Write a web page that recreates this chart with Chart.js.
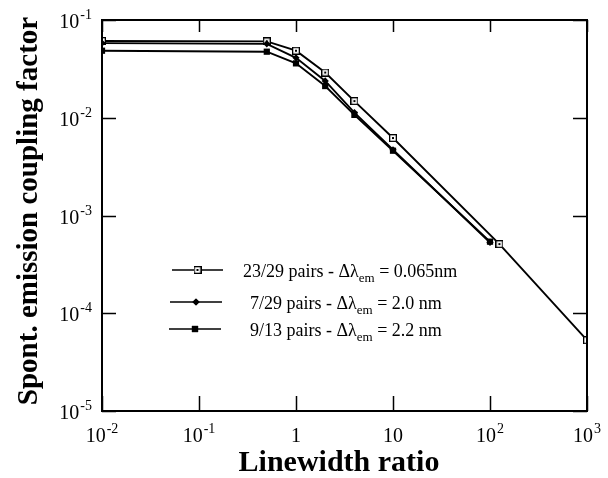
<!DOCTYPE html>
<html>
<head>
<meta charset="utf-8">
<script src="https://cdn.jsdelivr.net/npm/chart.js@4"></script>
<style>
  body { margin: 0; background: #fff; }
  #wrap { width: 608px; height: 478px; }
</style>
</head>
<body>
<div id="wrap"><canvas id="chart" width="608" height="478"></canvas></div>
<script>
// --- DATA ---
const xOpen = [0.01, 0.5, 1, 2, 4, 10, 125, 1000];
const yOpen = [0.061, 0.0605, 0.0485, 0.029, 0.0148, 0.0062, 0.00051, 0.000053];

const xDiamond = [0.01, 0.5, 1, 2, 4, 10, 100];
const yDiamond = [0.058, 0.057, 0.041, 0.0238, 0.0113, 0.0047, 0.00053];

const xFilled = [0.01, 0.5, 1, 2, 4, 10, 100];
const yFilled = [0.0485, 0.0474, 0.036, 0.0211, 0.0107, 0.0046, 0.00054];

const seriesNames = ['23/29 pairs', '7/29 pairs', '9/13 pairs'];
const seriesWidths = ['0.065nm', '2.0 nm', '2.2 nm'];

const xTicks = [0.01, 0.1, 1, 10, 100, 1000];
const xTickLabels = [['10', '-2'], ['10', '-1'], ['1', ''], ['10', ''], ['10', '2'], ['10', '3']];
const yTicks = [0.1, 0.01, 0.001, 0.0001, 0.00001];
const yTickLabels = [['10', '-1'], ['10', '-2'], ['10', '-3'], ['10', '-4'], ['10', '-5']];

const xTitle = 'Linewidth ratio';
const yTitle = 'Spont. emission coupling factor';

const SERIF = "'Liberation Serif', 'Times New Roman', serif";

// open square marker with a dot in the middle
const openSquare = document.createElement('canvas');
openSquare.width = 8; openSquare.height = 8;
(() => {
    const c = openSquare.getContext('2d');
    c.fillStyle = '#000'; c.fillRect(0, 0, 8, 8);
    c.fillStyle = '#fff'; c.fillRect(1.3, 1.3, 5.4, 5.4);
    c.fillStyle = '#000'; c.fillRect(3, 3, 2, 2);
})();

const toPoints = (xs, ys) => xs.map((x, i) => ({ x: x, y: ys[i] }));

const markers = [
    { style: openSquare, radius: 4 },
    { style: 'rectRot', radius: 3.6 },
    { style: 'rect', radius: 4.4 }
];

// Draw "10" with a raised exponent
function drawPow(ctx, base, exp, x, y, align) {
    ctx.font = '20px ' + SERIF;
    const wb = ctx.measureText(base).width;
    ctx.font = '14px ' + SERIF;
    const we = exp ? ctx.measureText(exp).width + 1 : 0;
    const total = wb + we;
    let left = x;
    if (align === 'center') left = x - total / 2;
    if (align === 'right') left = x - total;
    ctx.textAlign = 'left';
    ctx.textBaseline = 'alphabetic';
    ctx.font = '20px ' + SERIF;
    ctx.fillText(base, left, y);
    if (exp) {
        ctx.font = '14px ' + SERIF;
        ctx.fillText(exp, left + wb + 1, y - 9);
    }
}

const framePlugin = {
    id: 'frame',
    afterDraw(chart) {
        const ctx = chart.ctx;
        const a = chart.chartArea;
        const xs = chart.scales.x, ys = chart.scales.y;
        ctx.save();
        ctx.strokeStyle = '#000';
        ctx.fillStyle = '#000';

        // frame
        ctx.lineWidth = 2;
        ctx.strokeRect(a.left, a.top, a.right - a.left, a.bottom - a.top);

        // inward ticks on all four sides
        ctx.lineWidth = 1.5;
        ctx.beginPath();
        xTicks.forEach(v => {
            const px = Math.round(xs.getPixelForValue(v)) + 0.5;
            ctx.moveTo(px, a.bottom); ctx.lineTo(px, a.bottom - 15);
            ctx.moveTo(px, a.top); ctx.lineTo(px, a.top + 12);
        });
        yTicks.forEach(v => {
            const py = Math.round(ys.getPixelForValue(v)) + 0.5;
            ctx.moveTo(a.left, py); ctx.lineTo(a.left + 14, py);
            ctx.moveTo(a.right, py); ctx.lineTo(a.right - 14, py);
        });
        ctx.stroke();

        // tick labels
        xTicks.forEach((v, i) => {
            drawPow(ctx, xTickLabels[i][0], xTickLabels[i][1], xs.getPixelForValue(v), 442, 'center');
        });
        yTicks.forEach((v, i) => {
            drawPow(ctx, yTickLabels[i][0], yTickLabels[i][1], a.left - 10, ys.getPixelForValue(v) + 8, 'right');
        });

        // axis titles
        ctx.textAlign = 'center';
        ctx.textBaseline = 'alphabetic';
        ctx.font = 'bold 30px ' + SERIF;
        ctx.fillText(xTitle, 339, 471);
        ctx.save();
        ctx.font = 'bold 29px ' + SERIF;
        ctx.translate(37, 211);
        ctx.rotate(-Math.PI / 2);
        ctx.fillText(yTitle, 0, 0);
        ctx.restore();

        // legend
        const rowsY = [270, 302, 329];
        const lineX = [[172, 223], [170, 222], [169, 221]];
        const textX = [243, 250, 250];
        rowsY.forEach((ry, i) => {
            ctx.lineWidth = 1.3;
            ctx.beginPath();
            ctx.moveTo(lineX[i][0], ry); ctx.lineTo(lineX[i][1], ry);
            ctx.stroke();
            const mx = (lineX[i][0] + lineX[i][1]) / 2;
            Chart.helpers.drawPoint(ctx, {
                pointStyle: markers[i].style, radius: markers[i].radius, rotation: 0, borderWidth: 0
            }, mx, ry);
            if (typeof markers[i].style === 'string') ctx.fill();

            let tx = textX[i];
            const by = ry + 7;
            ctx.textAlign = 'left';
            ctx.font = '18px ' + SERIF;
            const t1 = seriesNames[i] + ' - \u0394\u03bb';
            ctx.fillText(t1, tx, by);
            tx += ctx.measureText(t1).width;
            ctx.font = '13px ' + SERIF;
            ctx.fillText('em', tx, by + 5);
            tx += ctx.measureText('em').width;
            ctx.font = '18px ' + SERIF;
            ctx.fillText(' = ' + seriesWidths[i], tx, by);
        });
        ctx.restore();
    }
};

function makeSet(xs, ys, m) {
    return {
        data: toPoints(xs, ys),
        showLine: true,
        borderColor: '#000',
        backgroundColor: '#000',
        borderWidth: 1.9,
        pointStyle: m.style,
        pointRadius: m.radius,
        pointBorderWidth: 0,
        pointBackgroundColor: '#000',
        tension: 0
    };
}

new Chart(document.getElementById('chart'), {
    type: 'scatter',
    data: {
        datasets: [
            makeSet(xFilled, yFilled, markers[2]),
            makeSet(xDiamond, yDiamond, markers[1]),
            makeSet(xOpen, yOpen, markers[0])
        ]
    },
    options: {
        responsive: false,
        animation: false,
        layout: { padding: { left: 102, top: 20, right: 21, bottom: 67 } },
        plugins: { legend: { display: false }, tooltip: { enabled: false } },
        scales: {
            x: { type: 'logarithmic', min: 0.01, max: 1000, display: false },
            y: { type: 'logarithmic', min: 0.00001, max: 0.1, display: false }
        }
    },
    plugins: [framePlugin]
});
</script>
</body>
</html>
